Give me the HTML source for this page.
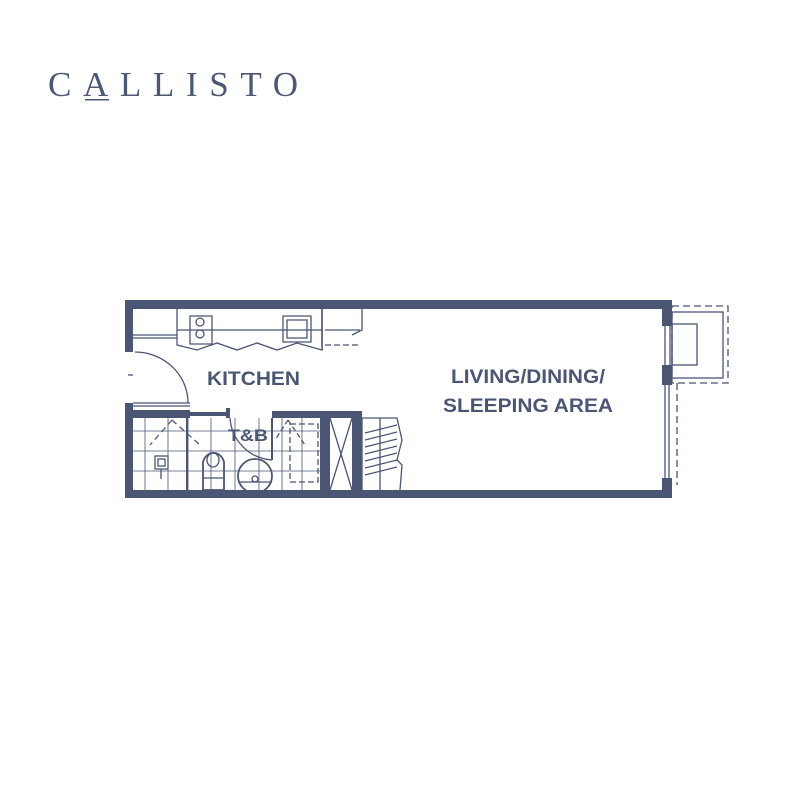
<!DOCTYPE html>
<html><head><meta charset="utf-8"><style>html,body{margin:0;padding:0;background:#fff}svg{display:block}</style></head>
<body>
<svg width="800" height="800" viewBox="0 0 800 800" xmlns="http://www.w3.org/2000/svg">
<rect width="800" height="800" fill="#fff"/>
<g fill="#4d5876">
<text x="48" y="96" font-family="Liberation Serif, serif" font-size="35" textLength="250" lengthAdjust="spacing">CALLISTO</text>
</g>
<rect x="85" y="99" width="24" height="1.5" fill="#4d5876"/>
<g fill="#4a5674">
<!-- outer walls -->
<rect x="125" y="300" width="547" height="9"/>
<rect x="125" y="300" width="8" height="52"/>
<rect x="125" y="403" width="8" height="95"/>
<rect x="125" y="490" width="547" height="8"/>
<rect x="662" y="300" width="10" height="26"/>
<rect x="662" y="365" width="10" height="20"/>
<rect x="662" y="478" width="10" height="20"/>
<!-- T&B walls -->
<rect x="125" y="410" width="65" height="8"/>
<rect x="190" y="412" width="38" height="4"/>
<rect x="226" y="408" width="4" height="10"/>
<rect x="272" y="411" width="90" height="7"/>
<rect x="320" y="411" width="10" height="80"/>
<rect x="352" y="411" width="10" height="80"/>
</g>
<g fill="none" stroke="#4a5674" stroke-width="1.3">
<!-- right window -->
<line x1="665" y1="326" x2="665" y2="365"/><line x1="670" y1="326" x2="670" y2="365"/>
<line x1="665" y1="385" x2="665" y2="478"/><line x1="669" y1="385" x2="669" y2="478"/>
<!-- balcony -->
<rect x="672" y="312" width="51" height="66"/>
<rect x="672" y="324" width="25" height="41"/>
<rect x="672" y="306" width="56" height="77" stroke-dasharray="7,4"/>
<line x1="677" y1="383" x2="677" y2="485" stroke-dasharray="7,4"/>
<!-- kitchen door -->
<path d="M135 352 A53 51 0 0 1 188 403"/>
<line x1="133" y1="403" x2="190" y2="403"/><line x1="133" y1="406" x2="190" y2="406"/>
<line x1="128" y1="375" x2="133" y2="375"/>
<!-- counter -->
<line x1="133" y1="335" x2="177" y2="335"/><line x1="133" y1="338" x2="177" y2="338"/>
<path d="M177 309 V345 L197 350 L217 343 L237 350 L257 343 L277 350 L297 343 L322 350 V309"/>
<line x1="177" y1="330" x2="322" y2="330"/>
<line x1="322" y1="309" x2="322" y2="350"/>
<path d="M190 316 h22 v28 h-22z"/><circle cx="200" cy="322" r="4"/><circle cx="200" cy="334" r="4"/>
<path d="M283 316 h28 v26 h-28z"/><path d="M287 320 h20 v18 h-20z"/>
<path d="M322 309 V345 M362 309 V330 L352 335"/>
<line x1="325" y1="345" x2="360" y2="345" stroke-dasharray="6,3"/>
<line x1="325" y1="330" x2="360" y2="330"/>
<!-- bathroom grid -->
<g stroke-width="0.8">
<line x1="133" y1="431" x2="320" y2="431"/><line x1="133" y1="451" x2="320" y2="451"/><line x1="133" y1="471" x2="320" y2="471"/>
<line x1="145" y1="418" x2="145" y2="490"/><line x1="168" y1="418" x2="168" y2="490"/><line x1="188" y1="418" x2="188" y2="490"/>
<line x1="211" y1="418" x2="211" y2="490"/><line x1="235" y1="418" x2="235" y2="490"/><line x1="259" y1="418" x2="259" y2="490"/><line x1="282" y1="418" x2="282" y2="490"/><line x1="302" y1="418" x2="302" y2="490"/>
</g>
<line x1="187" y1="418" x2="187" y2="490" stroke-width="2"/>
<line x1="172" y1="420" x2="150" y2="445" stroke-dasharray="6,4"/>
<line x1="172" y1="420" x2="200" y2="445" stroke-dasharray="6,4"/>
<line x1="272" y1="418" x2="272" y2="460" stroke-width="2"/>
<path d="M230 418 A45 45 0 0 0 272 460"/>
<line x1="288" y1="420" x2="275" y2="440" stroke-dasharray="5,3"/>
<line x1="288" y1="420" x2="305" y2="445" stroke-dasharray="5,3"/>
<rect x="290" y="424" width="28" height="58" stroke-dasharray="6,3"/>
<!-- toilet -->
<path d="M203 490 V462 A11 13 0 0 1 224 462 V490 Z" stroke-width="1.8"/>
<ellipse cx="213" cy="460" rx="6" ry="7"/>
<line x1="203" y1="478" x2="224" y2="478"/>
<!-- basin -->
<circle cx="255" cy="476" r="17" stroke-width="1.8"/>
<line x1="238" y1="482" x2="272" y2="482"/><circle cx="255" cy="479" r="3"/>
<!-- shower -->
<rect x="155" y="456" width="13" height="13"/><rect x="158" y="459" width="7" height="7"/>
<line x1="161" y1="469" x2="161" y2="479"/>
<!-- closet X -->
<line x1="330" y1="418" x2="352" y2="490"/><line x1="352" y1="418" x2="330" y2="490"/>
<!-- wardrobe -->
<path d="M362 418 H397 L402 440 L397 460 M362 418 V490"/>
<path d="M365 433 L397 425 M365 440 L397 432 M365 447 L397 439 M365 454 L397 446 M365 461 L397 453 M365 468 L397 460 M365 475 L397 467"/>
<line x1="380" y1="418" x2="380" y2="490"/>
<path d="M397 460 L402 465 L400 490"/>
</g>
<g fill="#4a5674" font-family="Liberation Sans, sans-serif" font-weight="bold">
<text x="207" y="385" font-size="19" textLength="93" lengthAdjust="spacingAndGlyphs">KITCHEN</text>
<text x="451" y="383" font-size="19" textLength="154" lengthAdjust="spacingAndGlyphs">LIVING/DINING/</text>
<text x="443" y="412" font-size="19" textLength="170" lengthAdjust="spacingAndGlyphs">SLEEPING AREA</text>
<text x="228" y="441" font-size="17" textLength="40" lengthAdjust="spacingAndGlyphs">T&amp;B</text>
</g>
</svg>
</body></html>
